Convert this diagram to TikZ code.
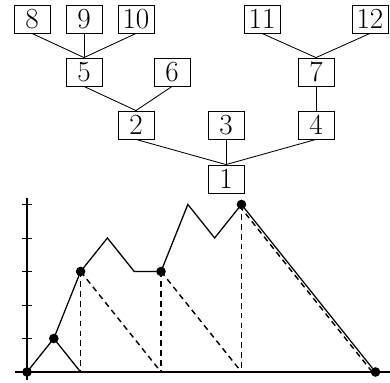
\documentclass[tikz,border=0pt]{standalone}
\usepackage{tikz}
\usetikzlibrary{positioning}
\tikzset{
  numbox/.style={rectangle,draw=black,semithick,minimum width=0.9cm,
                 minimum height=0.7cm,inner sep=0pt,font=\huge},
  treeline/.style={semithick},
  axisline/.style={thick},
  pathline/.style={line width=0.9pt},
  dashline/.style={dashed,line width=1pt,dash pattern=on 4pt off 3pt},
  dot/.style={circle,fill=black,inner sep=0pt,minimum size=0.24cm}
}

\begin{document}
\begin{tikzpicture}[x=0.025cm,y=-0.025cm]
  \useasboundingbox (0,0) rectangle (390,383);

  % Tree nodes
  \node[numbox] (n8)  at (32,19)   {8};
  \node[numbox] (n9)  at (84,19)   {9};
  \node[numbox] (n10) at (136,19)  {10};
  \node[numbox] (n11) at (262,19)  {11};
  \node[numbox] (n12) at (370,19)  {12};
  \node[numbox] (n5)  at (84,72)   {5};
  \node[numbox] (n6)  at (172,72)  {6};
  \node[numbox] (n7)  at (316,72)  {7};
  \node[numbox] (n2)  at (136,125) {2};
  \node[numbox] (n3)  at (226,125) {3};
  \node[numbox] (n4)  at (316,125) {4};
  \node[numbox] (n1)  at (226,179) {1};

  % Tree edges
  \draw[treeline] (n8.south) -- (n5.north);
  \draw[treeline] (n9.south) -- (n5.north);
  \draw[treeline] (n10.south) -- (n5.north);
  \draw[treeline] (n11.south) -- (n7.north);
  \draw[treeline] (n12.south) -- (n7.north);
  \draw[treeline] (n5.south) -- (n2.north);
  \draw[treeline] (n6.south) -- (n2.north);
  \draw[treeline] (n7.south) -- (n4.north);
  \draw[treeline] (n2.south) -- (n1.north);
  \draw[treeline] (n3.south) -- (n1.north);
  \draw[treeline] (n4.south) -- (n1.north);

  % Chart
  \begin{scope}[shift={(27,372)},x=0.67cm,y=0.8375cm]
    % Axes
    \coordinate (xl) at (-0.45,0);
    \coordinate (xr) at (13.55,0);
    \coordinate (yb) at (0,-0.24);
    \coordinate (yt) at (0,5.2);
    \draw[axisline] (xl) -- (xr);
    \draw[axisline] (yb) -- (yt);
    \foreach \k in {1,...,5}
      \draw[semithick] (-0.19,\k) -- (0.19,\k);

    % Points
    \coordinate (p0) at (0,0);
    \coordinate (p1) at (1,1);
    \coordinate (p2) at (2,3);
    \coordinate (p3) at (3,4);
    \coordinate (p4) at (4,3);
    \coordinate (p5) at (5,3);
    \coordinate (p6) at (6,5);
    \coordinate (p7) at (7,4);
    \coordinate (p8) at (8,5);
    \coordinate (p13) at (13,0);
    \coordinate (b2) at (2,0);
    \coordinate (b5) at (5,0);
    \coordinate (b8) at (8,0);

    % Solid path
    \draw[pathline] (p0) -- (p1) -- (p2) -- (p3) -- (p4) -- (p5)
                    -- (p6) -- (p7) -- (p8) -- (p13);
    \draw[pathline] (p1) -- (b2);

    % Dashed lines
    \draw[dashline] (p2) -- (b2);
    \draw[dashline] (p2) -- (b5);
    \draw[dashline] (p5) -- (b5);
    \draw[dashline] (p5) -- (b8);
    \draw[dashline] (p8) -- (b8);
    \draw[dashline,transform canvas={xshift=-1.4pt,yshift=-1.1pt}] (p8) -- (p13);

    % Dots
    \foreach \p in {p0,p1,p2,p5,p8,p13}
      \node[dot] at (\p) {};
  \end{scope}

\end{tikzpicture}
\end{document}
